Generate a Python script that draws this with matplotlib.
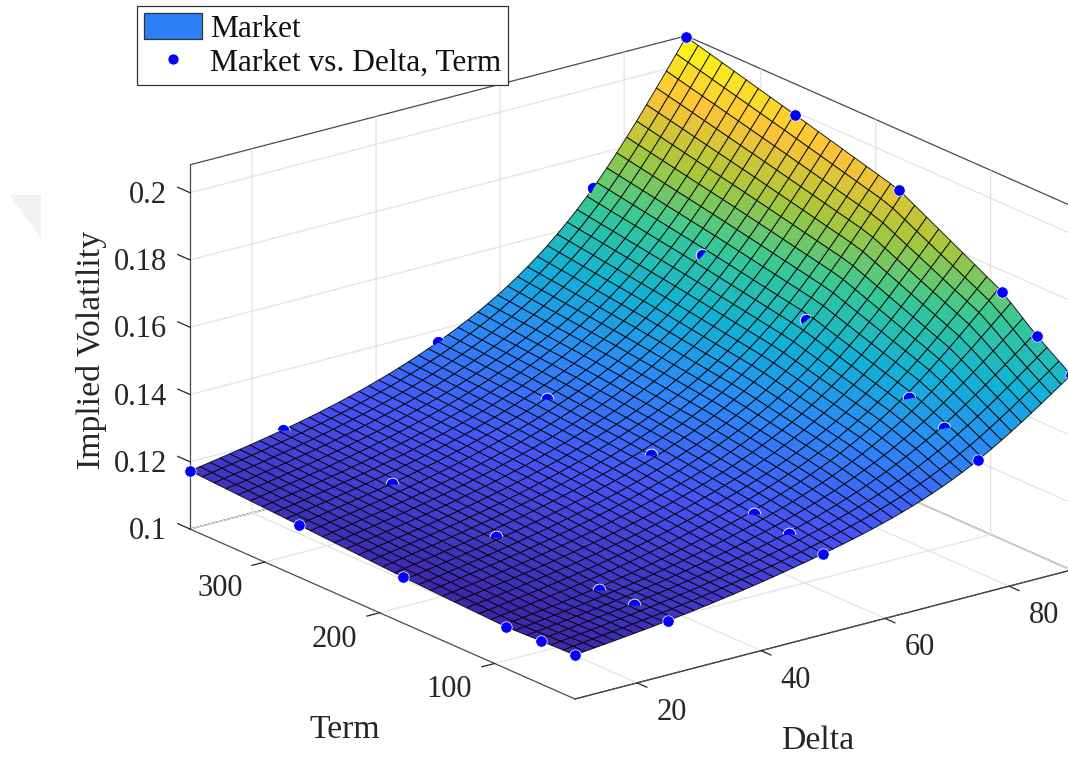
import numpy as np
import matplotlib
matplotlib.use("Agg")
import matplotlib.pyplot as plt
from matplotlib.colors import LinearSegmentedColormap, Normalize
from matplotlib.lines import Line2D
from matplotlib.patches import Patch, Polygon
from matplotlib.path import Path
from matplotlib.text import Text
from mpl_toolkits.mplot3d import proj3d

# Values: the market dots.
delta = np.array([10, 25, 50, 75, 90], float)
term = np.array([30, 60, 90, 180, 270, 365], float)
market = np.array([
    [.1131, .1161, .1240, .1399, .1580],
    [.1128, .1163, .1253, .1449, .1652],
    [.1124, .1161, .1268, .1494, .1737],
    [.1137, .1185, .1308, .1589, .1905],
    [.1155, .1205, .1339, .1647, .1991],
    [.1173, .1223, .1365, .1703, .2080],
])
# How each dot is cut by the surface: None = fully visible, else tilt of the visible half.
cut = [
    [None, None, None, None, None],
    [None, 0, 0, 10, None],
    [None, 0, 0, 10, None],
    [None, 0, 0, 40, None],
    [None, 0, 0, 50, None],
    [None, 0, 30, 65, None],
]
delta_ticks = [20, 40, 60, 80]
term_ticks = [100, 200, 300]
z_ticks = [0.1, 0.12, 0.14, 0.16, 0.18, 0.2]
z_tick_labels = ["0.1", "0.12", "0.14", "0.16", "0.18", "0.2"]
delta_lim = (10, 90)
term_lim = (30, 365)
z_lim = (0.1, 0.2083)
color_lim = (0.1124, 0.205)
legend_labels = ["Market", "Market vs. Delta, Term"]

parula = LinearSegmentedColormap.from_list("parula", [
    (0.2422, 0.1504, 0.6603), (0.2810, 0.3228, 0.9579), (0.1786, 0.5289, 0.9682),
    (0.0689, 0.6948, 0.8394), (0.2161, 0.7843, 0.5923), (0.6720, 0.7793, 0.2227),
    (0.9970, 0.7659, 0.2199), (0.9769, 0.9839, 0.0805)])


def natural_spline(x, y, xq):
    """Natural cubic spline through the read knots, used only to draw the mesh between them."""
    n = len(x)
    h = np.diff(x)
    A = np.zeros((n, n))
    b = np.zeros(n)
    A[0, 0] = A[-1, -1] = 1
    for i in range(1, n - 1):
        A[i, i - 1], A[i, i], A[i, i + 1] = h[i - 1], 2 * (h[i - 1] + h[i]), h[i]
        b[i] = 6 * ((y[i + 1] - y[i]) / h[i] - (y[i] - y[i - 1]) / h[i - 1])
    m = np.linalg.solve(A, b)
    k = np.clip(np.searchsorted(x, xq) - 1, 0, n - 2)
    t1, t2 = x[k + 1] - xq, xq - x[k]
    return (m[k] * t1**3 + m[k + 1] * t2**3) / (6 * h[k]) + \
        (y[k] / h[k] - m[k] * h[k] / 6) * t1 + (y[k + 1] / h[k] - m[k + 1] * h[k] / 6) * t2


# The reference's mesh is a fitted surface: its nodes between the market dots come from
# these knots (spline along delta, straight segments along term), not from separate readings.
d_fine = np.linspace(*delta_lim, 51)
t_fine = np.linspace(*term_lim, 33)
rows = np.array([natural_spline(delta, r, d_fine) for r in market])
surface = np.array([np.interp(t_fine, term, c) for c in rows.T]).T
D, T = np.meshgrid(d_fine, t_fine)

plt.rcParams["font.family"] = ["Liberation Serif", "DejaVu Serif"]
W, H = 1068, 757
fig = plt.figure(figsize=(W / 100, H / 100), dpi=100, facecolor="white")
size = 1500
ax = fig.add_axes([-0.1, -0.3, size / W, size / H], projection="3d",
                  proj_type="ortho", computed_zorder=False)
ax.patch.set_visible(False)
ax.view_init(elev=19.8, azim=-127.5)
ax.set_xlim(*delta_lim)
ax.set_ylim(*term_lim)
ax.set_zlim(*z_lim)
aspect = (625, 632, 387)
ax.set_box_aspect(aspect, zoom=1.0)

ax.set_xticks(delta_ticks)
ax.set_yticks(term_ticks)
ax.set_zticks(z_ticks)
ax.set_zticklabels(z_tick_labels)

edge = "#4a4a4a"
for axis in (ax.xaxis, ax.yaxis, ax.zaxis):
    axis.set_pane_color((1, 1, 1, 1))
    axis.pane.set_edgecolor(edge)
    axis.pane.set_linewidth(0.9)
    axis.line.set_color(edge)
    axis.line.set_linewidth(0.9)
    axis._axinfo["grid"].update(color="#e3e3e3", linewidth=0.9)
    axis._axinfo["tick"].update(linewidth={True: 0.9, False: 0.9})
    axis._axinfo["tick"]["color"] = edge
ax.xaxis._axinfo["tick"].update(inward_factor=0.32, outward_factor=0.0)
ax.yaxis._axinfo["tick"].update(inward_factor=0.32, outward_factor=0.0)
ax.zaxis._axinfo["tick"].update(inward_factor=0.0, outward_factor=0.4)
ax.tick_params(axis="both", labelsize=22, colors="#262626")
ax.tick_params(axis="z", labelsize=22, colors="#262626")
ax.zaxis.set_ticks_position("upper")
ax.zaxis.set_label_position("upper")
ax.zaxis._get_tickdir = lambda position: 1  # z ticks run along Term, as in the reference

norm = Normalize(*color_lim)
ax.plot_surface(D, T, surface, facecolors=parula(norm(surface)), shade=False,
                rstride=1, cstride=1, edgecolor=(0, 0, 0, 0.85), linewidth=0.7,
                antialiased=True, zorder=2)

for i, t in enumerate(term):
    for j, d in enumerate(delta):
        c = cut[i][j]
        if c is None:
            ax.plot([d], [t], [market[i, j]], ls="", marker="o", ms=8.2, mfc=(0, 0, 1),
                    mec="white", mew=0.5, zorder=3, clip_on=False)
        else:
            ax.plot([d], [t], [market[i, j]], ls="", marker=Path.wedge(c, c + 180), ms=8.2,
                    mfc=(0, 0, 1), mec="none", zorder=3)
            ax.plot([d], [t], [market[i, j]], ls="", marker=Path.arc(c, c + 180), ms=9.2,
                    mfc="none", mec="white", mew=0.6, zorder=3)

ax.set_zlabel("Implied Volatility", fontsize=24.3, color="#262626")
ax.set_xlabel("Delta", fontsize=24.3, color="#262626")
ax.set_ylabel("Term", fontsize=24.3, color="#262626")
ax.xaxis.set_rotate_label(False)
ax.yaxis.set_rotate_label(False)
ax.zaxis.set_rotate_label(False)
ax.xaxis.label.set_rotation(0)
ax.yaxis.label.set_rotation(0)
ax.zaxis.label.set_rotation(90)


def to_px(x, y, z):
    px, py, _ = proj3d.proj_transform(x, y, z, ax.get_proj())
    return ax.transData.transform((px, py))


# Fit the projected box to the reference's corners.
fig.canvas.draw()
left = to_px(delta_lim[0], term_lim[1], z_lim[0])
right = to_px(delta_lim[1], term_lim[0], z_lim[0])
zoom = (1071 - 190) / (right[0] - left[0])
ax.set_box_aspect(aspect, zoom=zoom)
fig.canvas.draw()
front = to_px(delta_lim[0], term_lim[0], z_lim[0])
pos = ax.get_position()
ax.set_position([pos.x0 + (575 - front[0]) / W, pos.y0 + ((H - 699) - front[1]) / H, pos.width, pos.height])
fig.canvas.draw()


def pin(label, disp_xy):
    """Hold a 3D axis text at a display position instead of matplotlib's automatic one."""
    xy = ax.transData.inverted().transform(disp_xy)
    Text.set_x(label, xy[0])
    Text.set_y(label, xy[1])
    label.set_position = lambda *_: None
    label.set_x = lambda *_: None
    label.set_y = lambda *_: None


# Axis labels at the reference's positions.
for axis, (lx, ly) in ((ax.xaxis, (818, 741)), (ax.yaxis, (345, 730)), (ax.zaxis, (91, 350))):
    pin(axis.label, (lx, H - ly))

# Tick labels: same offset from each projected tick position.
for tick, d in zip(ax.xaxis.get_major_ticks(), delta_ticks):
    p = to_px(d, term_lim[0], z_lim[0])
    pin(tick.label1, (p[0] + 35, p[1] - 15))
for tick, t in zip(ax.yaxis.get_major_ticks(), term_ticks):
    p = to_px(delta_lim[0], t, z_lim[0])
    pin(tick.label1, (p[0] - 45, p[1] - 12))
for tick, z in zip(ax.zaxis.get_major_ticks(), z_ticks):
    p = to_px(delta_lim[0], term_lim[1], z)
    tick.label1.set_ha("right")
    pin(tick.label1, (p[0] - 23, p[1] + 12))

handles = [Patch(facecolor="#2E7FF5", edgecolor="#333333", linewidth=0.9),
           Line2D([], [], ls="", marker="o", ms=8, mfc=(0, 0, 1), mec="white", mew=0.6)]
fig.legend(handles, legend_labels, loc="upper left", bbox_to_anchor=(137 / W, 1 - 6 / H),
           borderaxespad=0, fontsize=22.6, frameon=True, fancybox=False, framealpha=1,
           edgecolor="#333333", borderpad=0.22, labelspacing=0.12, handlelength=1.85,
           handleheight=0.88, handletextpad=0.25, labelcolor="#111111").get_frame().set_linewidth(0.9)

fig.add_artist(Polygon([[10 / W, 1 - 195 / H], [41 / W, 1 - 195 / H], [41 / W, 1 - 238 / H]],
                       closed=True, transform=fig.transFigure, facecolor="#f1f1f1",
                       edgecolor="none", zorder=-1))
fig.savefig("out.png", dpi=100)
